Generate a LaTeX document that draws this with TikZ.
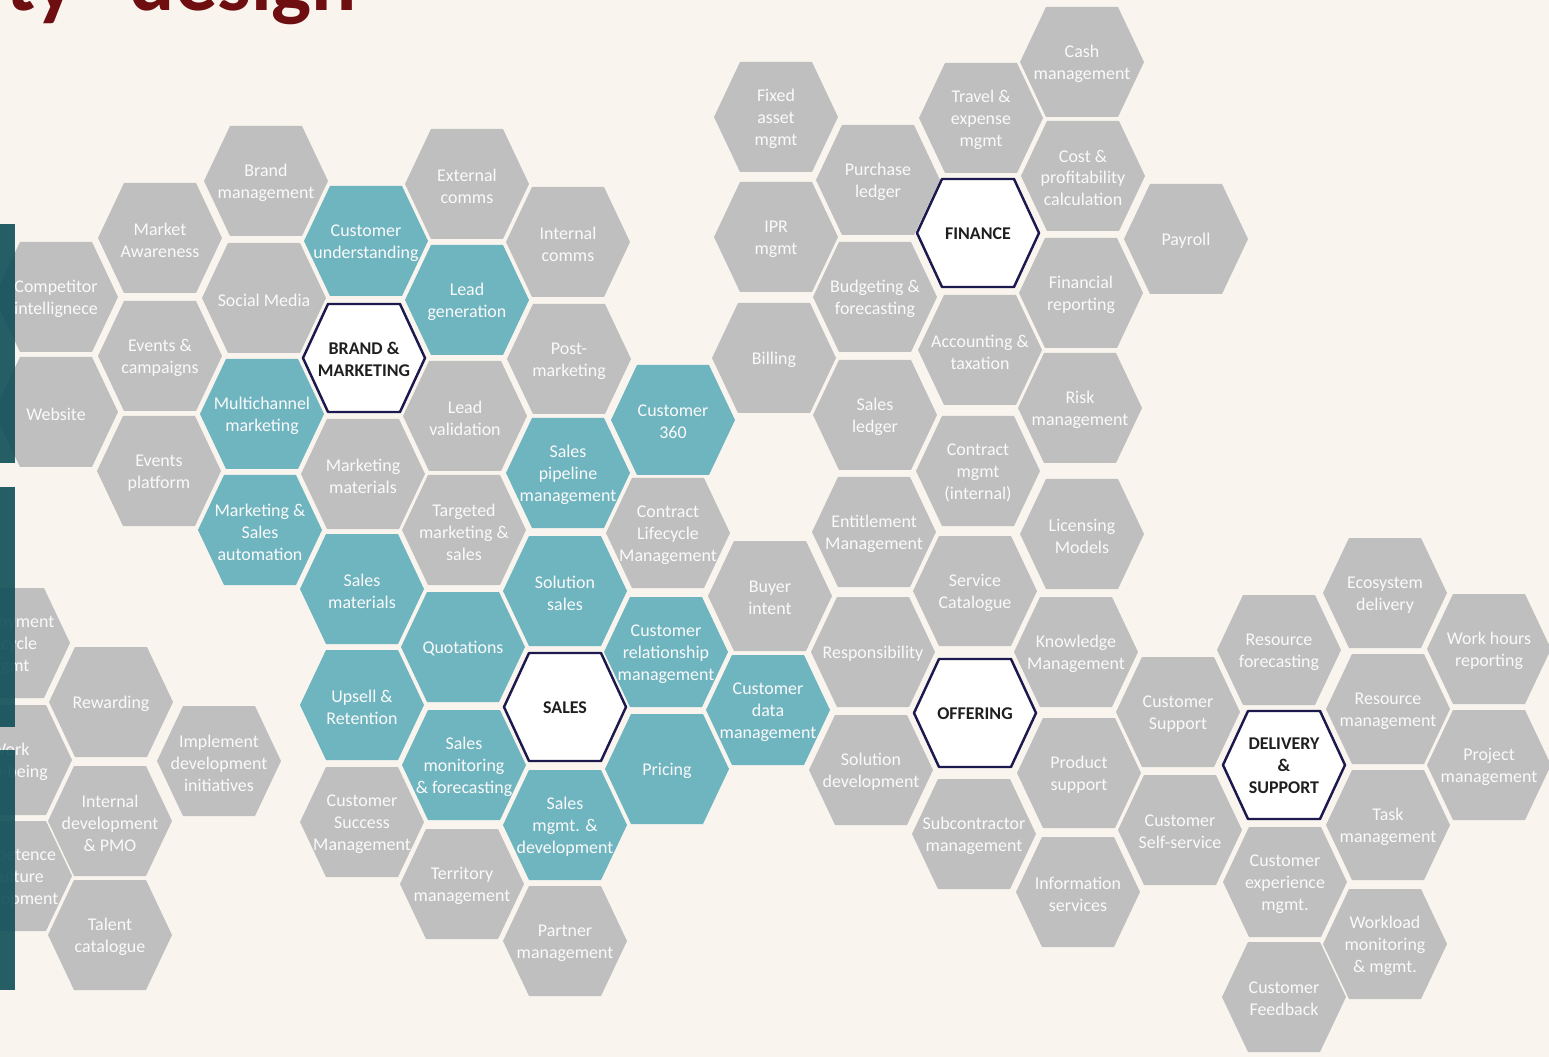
\documentclass[tikz,border=0pt]{standalone}
\usepackage{fontspec}
\setmainfont{Carlito}
\usepackage{tikz}
\usetikzlibrary{calc}
\usepackage{xcolor}
\definecolor{pagebg}{RGB}{249, 245, 238}
\definecolor{cellgray}{RGB}{191, 191, 191}
\definecolor{cellteal}{RGB}{111, 181, 192}
\definecolor{corenavy}{RGB}{27, 25, 78}
\definecolor{titlered}{RGB}{110, 14, 16}
\definecolor{barteal}{RGB}{16, 78, 88}

\begin{document}
\begin{tikzpicture}[x=0.02cm, y=-0.02cm,
    celltext/.style={align=center, inner sep=0pt, text=white!96!gray, yshift=-1.1pt,
      font=\fontsize{10.2}{12.5}\selectfont},
    coretext/.style={align=center, inner sep=0pt, text=black!88, yshift=-0.6pt,
      font=\fontsize{10.2}{12.5}\selectfont\bfseries}]
  % --- page ---
  \useasboundingbox (0,0) rectangle (1549,1057);
  \clip (0,0) rectangle (1549,1057);
  \fill[pagebg] (0,0) rectangle (1549,1057);
  \node[anchor=base west, inner sep=0pt, text=titlered,
        font=\fontsize{48}{48}\selectfont\bfseries] (title) at (6,11) {ty\hspace{20pt} design};

  % --- gray cells ---
  \foreach \px/\py/\cname/\ctext in {
      266/181/brandmgmt/{Brand\\management}, 467/184/extcomms/{External\\comms},
      160/238/mktaware/{Market\\Awareness}, 568/242/intcomms/{Internal\\comms},
      56/297/competitor/{Competitor\\intellignece}, 264/298/socialmedia/{Social Media},
      160/356/events/{Events \&\\campaigns}, 569/359/postmkt/{Post-\\marketing},
      56/412/website/{Website}, 465/416/leadval/{Lead\\validation},
      159/471/eventsplat/{Events\\platform}, 363/474/mktmat/{Marketing\\materials},
      464/530/targeted/{Targeted\\marketing \&\\sales},
      668/533/clm/{Contract\\Lifecycle\\Management}, 770/596/buyer/{Buyer\\intent},
      362/822/csm/{Customer\\Success\\Management}, 462/884/territory/{Territory\\management},
      565/941/partner/{Partner\\management},
      8/643/lifecycle/{Employment\\lifecycle\\mgmt}, 111/702/rewarding/{Rewarding},
      10/760/wellbeing/{Work\\well-being}, 219/761/implement/{Implement\\development\\initiatives},
      110/821/intdev/{Internal\\development\\\& PMO},
      10/876/competence/{Competence\\\& culture\\development}, 110/935/talent/{Talent\\catalogue},
      1082/62/cash/{Cash\\management}, 776/117/fixedasset/{Fixed\\asset\\mgmt},
      981/118/travel/{Travel \&\\expense\\mgmt}, 878/180/purchase/{Purchase\\ledger},
      1083/176/costcalc/{Cost \&\\profitability\\calculation}, 776/237/ipr/{IPR\\mgmt},
      1186/239/payroll/{Payroll}, 875/297/budget/{Budgeting \&\\forecasting},
      1081/293/finrep/{Financial\\reporting}, 774/358/billing/{Billing},
      980/350/accounting/{Accounting \&\\taxation}, 875/415/salesledger/{Sales\\ledger},
      1080/408/risk/{Risk\\management}, 978/471/contract/{Contract\\mgmt\\(internal)},
      874/532/entitlement/{Entitlement\\Management}, 1082/534/licensing/{Licensing\\Models},
      975/591/servicecat/{Service\\Catalogue}, 873/652/responsibility/{Responsibility},
      1076/652/knowledge/{Knowledge\\Management}, 871/770/soldev/{Solution\\development},
      1079/773/prodsupport/{Product\\support}, 974/834/subcontractor/{Subcontractor\\management},
      1078/892/infoserv/{Information\\services},
      1385/593/ecosystem/{Ecosystem\\delivery}, 1279/650/resforecast/{Resource\\forecasting},
      1489/649/workhours/{Work hours\\reporting}, 1178/712/custsupport/{Customer\\Support},
      1388/709/resmgmt/{Resource\\management}, 1489/765/projmgmt/{Project\\management},
      1180/830/selfservice/{Customer\\Self-service}, 1388/825/taskmgmt/{Task\\management},
      1285/882/custexp/{Customer\\experience\\mgmt.},
      1385/944/workload/{Workload\\monitoring\\\& mgmt.}, 1284/997/feedback/{Customer\\Feedback}} {
    \fill[cellgray] (\px,\py) ++(-62,0) -- ++(26,-55) -- ++(72,0) -- ++(26,55)
      -- ++(-26,55) -- ++(-72,0) -- cycle;
    \node[celltext] (\cname) at (\px,\py) {\ctext};
  }

  % --- teal cells ---
  \foreach \px/\py/\cname/\ctext in {
      366/241/custunder/{Customer\\understanding}, 467/300/leadgen/{Lead\\generation},
      262/414/multichannel/{Multichannel\\marketing}, 673/420/cust360/{Customer\\360},
      568/473/pipeline/{Sales\\pipeline\\management},
      260/530/automation/{Marketing \&\\Sales\\automation},
      362/589/salesmat/{Sales\\materials}, 565/591/solsales/{Solution\\sales},
      463/647/quotations/{Quotations}, 666/652/crm/{Customer\\relationship\\management},
      362/705/upsell/{Upsell \&\\Retention}, 768/710/custdata/{Customer\\data\\management},
      464/765/salesmon/{Sales\\monitoring\\\& forecasting}, 667/769/pricing/{Pricing},
      565/825/salesdev/{Sales\\mgmt. \&\\development}} {
    \fill[cellteal] (\px,\py) ++(-62,0) -- ++(26,-55) -- ++(72,0) -- ++(26,55)
      -- ++(-26,55) -- ++(-72,0) -- cycle;
    \node[celltext] (\cname) at (\px,\py) {\ctext};
  }

  % --- core areas ---
  \foreach \px/\py/\cname/\ctext in {
      364/358/brand/{BRAND \&\\MARKETING}, 565/707/sales/{SALES},
      978/233/finance/{FINANCE}, 975/713/offering/{OFFERING},
      1284/765/delivery/{DELIVERY\\\&\\SUPPORT}} {
    \filldraw[fill=white, draw=corenavy, line width=1.4pt, line join=round]
      (\px,\py) ++(-61,0) -- ++(25,-54) -- ++(72,0) -- ++(25,54)
      -- ++(-25,54) -- ++(-72,0) -- cycle;
    \node[coretext] (\cname) at (\px,\py) {\ctext};
  }

  % --- side bars ---
  \fill[barteal, opacity=0.9] (0,224) rectangle (15,463);
  \fill[barteal, opacity=0.9] (0,487) rectangle (15,727);
  \fill[barteal, opacity=0.9] (0,750) rectangle (15,990);
\end{tikzpicture}
\end{document}
